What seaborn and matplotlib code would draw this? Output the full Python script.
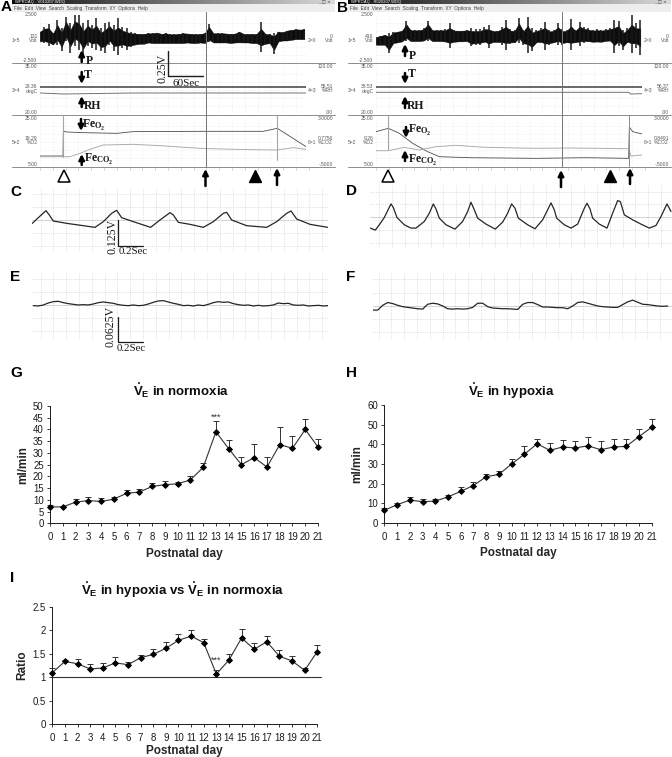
import numpy as np
import seaborn as sns
import matplotlib
matplotlib.use("Agg")
import matplotlib.pyplot as plt

# ---- graphs G, H, I
days = list(range(22))
norm_val = [7, 7, 9, 9.7, 9.3, 10.3, 12.8, 13.3, 15.7, 16.5, 16.8, 18.5, 23.8, 39, 31.8, 25, 28, 24, 33.5, 32, 40, 32.5]
norm_top = [7.8, 7.5, 10.3, 11, 10.7, 11, 14.3, 14.5, 17.3, 18, 17.8, 20.3, 25.5, 43.7, 35.5, 28.3, 33.7, 28.2, 41.2, 37, 44.5, 36]
hyp_val = [6.3, 9.2, 11.5, 10.8, 11, 13.2, 16, 19, 23.5, 24.7, 30, 35, 40.3, 37, 38.7, 38.2, 39.3, 37.3, 38.7, 39, 44, 48.8]
hyp_top = [7.5, 10, 13.2, 12, 12.3, 14.3, 18, 21, 24.8, 26.2, 32.5, 39.2, 42.8, 40.7, 42.5, 41.5, 43.7, 41.5, 42.7, 42.7, 47.7, 53]
ratio_val = [1.1, 1.34, 1.29, 1.18, 1.2, 1.31, 1.27, 1.42, 1.49, 1.62, 1.79, 1.88, 1.74, 1.07, 1.37, 1.84, 1.6, 1.76, 1.45, 1.35, 1.15, 1.55]
ratio_top = [1.2, 1.37, 1.39, 1.28, 1.3, 1.43, 1.32, 1.48, 1.6, 1.75, 1.92, 2.02, 1.81, 1.15, 1.5, 2.03, 1.73, 1.88, 1.58, 1.45, 1.2, 1.68]

# ---- screen traces (converted to units below)
A_up = [95, 80, 72, 100, 60, 85, 50, 70, 40, 45, 70, 60, 75, 55, 85, 70, 65, 75, 55, 80, 85, 95, 100, 102, 102, 100, 100, 98, 102, 100, 103, 103, 102, 100, 101, 102, 103, 102, 100, 72, 100, 100, 100, 101, 102, 101, 95, 102, 102, 102, 102, 65, 102, 103, 98, 95, 97, 92, 90, 88, 89, 88]
A_low = [125, 130, 140, 135, 135, 155, 125, 160, 140, 150, 170, 140, 145, 150, 155, 160, 135, 155, 165, 145, 150, 142, 135, 132, 132, 128, 130, 130, 130, 130, 130, 130, 130, 130, 128, 130, 130, 128, 130, 128, 128, 128, 128, 128, 130, 128, 128, 128, 128, 130, 130, 158, 132, 130, 162, 125, 122, 122, 120, 118, 118, 118]
B_up = [112, 108, 105, 100, 97, 95, 92, 62, 90, 90, 90, 85, 62, 90, 90, 90, 88, 68, 90, 92, 92, 90, 85, 88, 88, 82, 75, 92, 92, 80, 60, 88, 90, 55, 90, 50, 85, 90, 85, 65, 90, 90, 70, 88, 90, 58, 90, 65, 80, 85, 90, 88, 90, 88, 85, 60, 62, 90, 85, 45, 70, 60]
B_low = [135, 135, 135, 160, 130, 128, 125, 125, 125, 125, 125, 125, 125, 125, 125, 125, 128, 145, 128, 125, 125, 125, 140, 135, 135, 130, 145, 128, 128, 135, 150, 132, 130, 130, 135, 160, 155, 130, 130, 150, 135, 130, 135, 135, 130, 150, 130, 140, 130, 128, 128, 128, 128, 125, 125, 160, 140, 150, 130, 160, 145, 165]

A_o2_x = [120, 189, 190, 200, 250, 350, 400, 600, 790, 832, 918]
A_o2_y = [468, 468, 393, 396, 398, 400, 395, 394, 394, 385, 440]
A_co2_x = [120, 210, 240, 270, 310, 400, 480, 600, 700, 830, 880, 918]
A_co2_y = [470, 470, 460, 448, 435, 433, 437, 445, 448, 450, 443, 448]
B_o2_x = [120, 157, 190, 230, 275, 310, 400, 600, 750, 878, 880, 890, 918]
B_o2_y = [395, 385, 400, 430, 455, 470, 473, 475, 473, 475, 381, 395, 402]
B_co2_x = [120, 157, 205, 250, 300, 360, 450, 600, 700, 878, 885, 918]
B_co2_y = [452, 452, 442, 450, 440, 436, 442, 445, 444, 446, 468, 465]
A_rh_x = [120, 190, 400, 918]
A_rh_y = [279, 282, 279, 279]
B_rh_x = [120, 878, 884, 918]
B_rh_y = [277, 277, 282, 281]

C_x = [97, 115, 138, 148, 160, 200, 250, 285, 310, 335, 350, 365, 400, 452, 480, 510, 520, 535, 570, 610, 640, 670, 680, 695, 740, 800, 830, 860, 873, 890, 930, 983]
C_y = [115, 98, 77, 90, 108, 115, 122, 127, 110, 85, 76, 98, 110, 127, 105, 83, 90, 112, 118, 127, 110, 85, 82, 105, 122, 127, 110, 85, 78, 102, 118, 127]
D_x = [103, 118, 130, 145, 165, 172, 183, 205, 225, 240, 265, 280, 292, 300, 310, 330, 357, 380, 395, 405, 415, 425, 450, 478, 500, 515, 527, 537, 547, 575, 597, 620, 635, 645, 655, 662, 685, 705, 725, 745, 753, 762, 770, 790, 813, 830, 845, 853, 865, 890, 915, 940, 960, 975, 993, 1005]
D_y = [130, 136, 120, 98, 57, 68, 98, 120, 130, 130, 110, 85, 57, 72, 100, 120, 133, 110, 80, 52, 75, 100, 118, 133, 112, 85, 57, 70, 100, 120, 132, 105, 75, 54, 75, 100, 120, 130, 118, 70, 55, 72, 100, 118, 130, 85, 47, 50, 90, 105, 118, 130, 122, 95, 57, 80]
E_y = [362, 363, 360, 354, 350, 349, 353, 356, 358, 360, 359, 360, 357, 353, 351, 353, 355, 359, 361, 362, 360, 362, 361, 357, 352, 348, 347, 351, 355, 358, 362, 361, 363, 360, 362, 358, 353, 350, 352, 351, 356, 359, 361, 360, 363, 361, 363, 362, 360, 354, 356, 355, 360, 361, 360, 363, 362, 361, 363, 362]
F_y = [372, 372, 358, 350, 353, 358, 362, 364, 366, 368, 369, 355, 352, 354, 360, 368, 369, 368, 369, 368, 364, 352, 352, 362, 366, 367, 368, 368, 369, 370, 355, 350, 350, 356, 363, 363, 364, 365, 365, 368, 360, 350, 348, 352, 356, 360, 362, 363, 364, 364, 356, 348, 343, 349, 355, 356, 358, 360, 361, 360]

left_A = ["2.500", "-2.500", "35.00", "20.00", "25.00", "5.00"]
right_A = ["120.00", ".00", "3.0000", "-.5000"]
mid_A = ["131", "28.36", "19.29"]
mid_rA = ["0", "55.51", "0.7756"]
mid_B = ["416", "38.53", "9.26"]
mid_rB = ["0", "56.37", "0.8491"]

W, H = 672, 757
sns.set_theme(style="ticks")
plt.rcParams["font.family"] = ["Liberation Sans", "DejaVu Sans"]
plt.rcParams["mathtext.fontset"] = "custom"
plt.rcParams["mathtext.rm"] = "Liberation Serif:bold"
plt.rcParams["mathtext.bf"] = "Liberation Sans:bold"
plt.rcParams["mathtext.it"] = "Liberation Sans:italic"

fig = plt.figure(figsize=(W / 100, H / 100), dpi=100, facecolor="white")


def px_ax(x0, y0, x1, y1):
    return fig.add_axes([x0 / W, 1 - y1 / H, (x1 - x0) / W, (y1 - y0) / H])


# overlay in pixels for labels, arrows and scale bars
ov = fig.add_axes([0, 0, 1, 1], zorder=10)
ov.patch.set_alpha(0)
ov.axis("off")


def sec(x):
    return (np.array(x, dtype=float) - 120) * 60 / 104


def volt(y):
    return (117.5 - np.array(y, dtype=float)) / 29


def degc(y):
    return 35 - (np.array(y, dtype=float) - 200) * 15 / 140


def feo(y):
    return 25 - (np.array(y, dtype=float) - 355) * 20 / 142


def small(x, y, s, ha="right"):
    ov.text(x, y, s, fontsize=3.6, color="0.35", ha=ha, va="center")


def arrow(x, y0, y1):
    ov.annotate("", xy=(x, y1), xytext=(x, y0),
                arrowprops=dict(arrowstyle="-|>", color="black", lw=1.8, mutation_scale=8, shrinkA=0, shrinkB=0))


def serif(x, y, s, size=7.5, **kw):
    ov.text(x, y, s, fontsize=size, family="Liberation Serif", color="0.1", ha="center", va="center", **kw)


def screen(off, win_l, title, up, low, o2x, o2y, co2x, co2y, rhx, rhy, mids, mids_r):
    tx0 = off + 40
    tx1 = off + 306
    # title bar + menu
    ov.imshow(np.linspace(0.05, 0.85, 256).reshape(1, -1), cmap="gray", vmin=0, vmax=1, aspect="auto",
              extent=[win_l, off + 335, 4, 0], zorder=1)
    ov.fill_between([win_l, off + 335], 4, 12, color="0.93", lw=0, zorder=1)
    ov.text(win_l + 3, 2, title, fontsize=3, color="white", va="center", zorder=2)
    ov.text(win_l + 1.5, 8.5, "File  Edit  View  Search  Scaling  Transform  XY  Options  Help", fontsize=3.4,
            color="0.25", va="center")
    ov.text(off + 318, 2.5, "_ □ ×", fontsize=3.2, color="0.2", va="center", family=["DejaVu Sans"])
    # channel separators
    for yy in [63.3, 115.3, 167.3]:
        ov.plot([win_l, off + 335], [yy, yy], color="0.55", lw=0.7)

    grid_t = sec(120 + 38.4 * np.arange(22))
    ax1 = px_ax(tx0, 15, tx1, 63)
    ax2 = px_ax(tx0, 66.7, tx1, 113.3)
    ax3 = px_ax(tx0, 118.3, tx1, 165.7)
    for ax, lims in [(ax1, (-2.5, 2.5)), (ax2, (20, 35)), (ax3, (5, 25))]:
        ax.set_xticks(grid_t[grid_t < sec(918)])
        ax.set_yticks(np.linspace(lims[0], lims[1], 7)[1:-1])
        ax.set_xlim(0, sec(918))
        ax.set_ylim(*lims)
        ax.grid(True, color="0.88", lw=0.4, ls=":")
        ax.tick_params(length=0, labelbottom=False, labelleft=False)
        for s in ax.spines.values():
            s.set_visible(False)

    # dense trace: a solid jagged core with the single spikes standing out of it
    px = sec(120 + 13 * np.arange(len(up)))
    up_y = np.array(up, dtype=float)
    low_y = np.array(low, dtype=float)
    mid_y = (up_y + low_y) / 2
    half = (low_y - up_y) / 2
    core = np.minimum(half, 16 + 0.3 * (half - 16))
    ax1.fill_between(px, volt(mid_y - core), volt(mid_y + core), color="0.05", lw=0.3)
    ax1.vlines(px, volt(up_y), volt(low_y), color="0.1", lw=1.1)
    sns.lineplot(x=sec(rhx), y=degc(rhy), color="0.45", lw=0.7, ax=ax2, errorbar=None)
    ax2.axhline(degc(260), color="0.25", lw=1.1)
    sns.lineplot(x=sec(o2x), y=feo(o2y), color="0.3", lw=0.6, ax=ax3, errorbar=None, sort=False)
    sns.lineplot(x=sec(co2x), y=feo(co2y), color="0.68", lw=0.7, ax=ax3, errorbar=None, sort=False)
    for ax in (ax1, ax2, ax3):
        ax.set_xlabel("")
        ax.set_ylabel("")

    # scale texts down both sides
    for yy, s in zip([15, 61, 66, 113, 118, 165], left_A):
        small(off + 37.5, yy, s)
    for yy, s in zip([66, 113, 118, 165], right_A):
        small(off + 333, yy, s)
    channels = [(38, "Volt", "Volt", "1=5", "2=0"), (89, "degC", "%RH", "3=4", "4=3"), (141, "%O2", "%CO2", "5=2", "6=1")]
    for (yy, u1, u2, n1, n2), m1, m2 in zip(channels, mids, mids_r):
        small(off + 37.5, yy - 2, m1)
        small(off + 37.5, yy + 2, u1)
        small(off + 20, yy + 2, n1)
        small(off + 333, yy - 2, m2)
        small(off + 333, yy + 2, u2)
        small(off + 316, yy + 2, n2)
    # tick row under the screen
    ov.vlines(off + 40 + 12.8 * np.arange(22), 168, 170, color="0.6", lw=0.4)


screen(0, 12, "WPROAQ - V010207.WDQ", A_up, A_low, A_o2_x, A_o2_y, A_co2_x, A_co2_y, A_rh_x, A_rh_y, mid_A, mid_rA)
screen(336, 348, "WPROAQ - R020207.WDQ", B_up, B_low, B_o2_x, B_o2_y, B_co2_x, B_co2_y, B_rh_x, B_rh_y, mid_B, mid_rB)

# vertical cursors on the screens
ov.plot([205.5, 205.5], [12, 167], color="0.45", lw=0.7)
ov.plot([277, 277], [115, 160], color="0.65", lw=0.8)
ov.plot([63, 63], [115, 157], color="0.65", lw=0.8)
ov.plot([561.7, 561.7], [12, 167], color="0.45", lw=0.7)
ov.plot([629, 629], [115, 167], color="0.55", lw=0.7)
ov.plot([388.3, 388.3], [115, 150], color="0.65", lw=0.8)

# arrows and labels on the channels
for xx, y0, y1 in [(81.7, 62, 50), (81.7, 72, 84), (81.7, 107, 96), (81, 119, 131), (81.7, 165, 154),
                   (405, 56, 44), (405, 73, 84), (405, 108, 96), (406, 127, 138), (405, 161, 150)]:
    arrow(xx, y0, y1)
serif(89, 60.7, "P", size=8.5, fontweight="bold")
serif(88, 74.7, "T", size=8.5, fontweight="bold")
serif(92.7, 106, "RH", size=8.5, fontweight="bold")
serif(94, 125, r"$\mathrm{Fe_{O_2}}$", size=8.5)
serif(99, 159, r"$\mathrm{Fe_{CO_2}}$", size=8.5)
serif(412, 56, "P", size=8.5, fontweight="bold")
serif(412, 74, "T", size=8.5, fontweight="bold")
serif(416, 105.7, "RH", size=8.5, fontweight="bold")
serif(420, 130.7, r"$\mathrm{Fe_{O_2}}$", size=8.5)
serif(423, 160, r"$\mathrm{Fe_{CO_2}}$", size=8.5)

# time scale on A
ov.plot([168, 168, 203], [51, 76, 76], color="0.1", lw=1)
serif(162, 68, "0.25V", size=8.5, rotation=90)
serif(186, 83, "60Sec", size=8)

# event marks below the screens
for xx in [64, 387.7]:
    ov.plot([xx], [175.5], marker="^", ms=8, mfc="white", mec="black", mew=1.1)
for xx in [255, 610]:
    ov.plot([xx], [175.5], marker="^", ms=8, color="black")
for xx, y0, y1 in [(205.5, 186, 169), (277, 185, 168), (561, 187, 170), (630, 184, 168)]:
    arrow(xx, y0, y1)


def wave(box, x, y, x_lim, y_lim, grid_x0, grid_y, lw=0.9):
    ax = px_ax(*box)
    t = (np.array(x, dtype=float) - grid_x0) / 384
    v = (grid_y - np.array(y, dtype=float)) * 0.0625 / 38.5
    sns.lineplot(x=t, y=v, color="0.15", lw=lw, ax=ax, errorbar=None, sort=False)
    ax.set_xticks(0.1 * np.arange(0, 24))
    ax.set_yticks([-0.125, -0.0625, 0, 0.0625, 0.125])
    ax.set_xlim((x_lim[0] - grid_x0) / 384, (x_lim[1] - grid_x0) / 384)
    ax.set_ylim((grid_y - y_lim[1]) * 0.0625 / 38.5, (grid_y - y_lim[0]) * 0.0625 / 38.5)
    ax.grid(True, color="0.78", lw=0.5, ls=":")
    ax.axhline(0, color="0.85", lw=0.7, zorder=0)
    ax.tick_params(length=0, labelbottom=False, labelleft=False)
    ax.set_xlabel("")
    ax.set_ylabel("")
    ax.patch.set_alpha(0)
    for s in ax.spines.values():
        s.set_visible(False)


wave((32.3, 188.3, 327.7, 251.7), C_x, C_y, (97, 983), (10, 200), 122, 105)
wave((370.3, 185, 672, 248), D_x, D_y, (103, 1008), (0, 190), 130, 97)
wave((32.3, 273.3, 327.7, 340), [100 + 15 * i for i in range(len(E_y))], E_y, (97, 983), (265, 465), 122, 360)
wave((372.7, 273.3, 672, 339.7), [110 + 15 * i for i in range(len(F_y))], F_y, (110, 1008), (265, 458), 128, 360)

ov.plot([117.7, 117.7, 143], [220, 245.7, 245.7], color="0.1", lw=0.9)
serif(112, 236.7, "0.125V", size=8.5, rotation=90)
serif(133, 252, "0.2Sec", size=7.8)
ov.plot([117.7, 117.7, 143], [317, 341.7, 341.7], color="0.1", lw=0.9)
serif(111, 326.7, "0.0625V", size=8.5, rotation=90)
serif(131, 348.7, "0.2Sec", size=7.8)


def graph(box, val, top, y_max, y_step, ylabel, title, title_xy, stars=None, xpad=4):
    ax = px_ax(*box)
    sns.lineplot(x=days, y=val, color="0.2", lw=0.8, marker="D", ms=2.9, mfc="black", mec="black", ax=ax, errorbar=None,
                 clip_on=False, zorder=3)
    lower = np.zeros(len(val))
    upper = np.array(top) - np.array(val)
    ax.errorbar(days, val, yerr=[lower, upper], fmt="none", ecolor="0.2", elinewidth=0.7, capsize=2.4, capthick=0.7,
                clip_on=False)
    ax.set_xlim(0, 21)
    ax.set_ylim(0, y_max)
    ax.set_xticks(days)
    ax.set_yticks(np.arange(0, y_max + y_step / 2, y_step))
    ax.set_yticklabels([f"{v:g}" for v in np.arange(0, y_max + y_step / 2, y_step)])
    ax.tick_params(length=2.5, width=0.6, labelsize=6.9, pad=2, colors="0.1")
    ax.tick_params(axis="x", pad=4)
    ax.set_xlabel("Postnatal day", fontsize=8.5, fontweight="bold", labelpad=xpad)
    ax.set_ylabel(ylabel, fontsize=8.5, fontweight="bold", labelpad=3)
    ax.patch.set_alpha(0)
    sns.despine(ax=ax)
    for s in ["left", "bottom"]:
        ax.spines[s].set_linewidth(0.7)
        ax.spines[s].set_color("0.1")
    if stars is not None:
        ax.text(13, stars, "***", fontsize=6.5, ha="center", va="center", color="0.2")
    ov.text(title_xy[0], title_xy[1], title, fontsize=9.5, fontweight="bold", ha="center", va="center", color="0.05")
    return ax


VE = r"$\dot{\mathbf{V}}_{\mathbf{E}}$"
graph((50, 406, 318, 523.3), norm_val, norm_top, 50, 5, "ml/min", VE + " in normoxia", (181, 391), stars=45.3)
graph((384.3, 405.3, 651.7, 522.7), hyp_val, hyp_top, 60, 10, "ml/min", VE + " in hypoxia", (511, 391))
ax_i = graph((52.3, 607, 317.3, 724.3), ratio_val, ratio_top, 2.5, 0.5, "Ratio", VE + " in hypoxia vs " + VE + " in normoxia",
             (183, 590), stars=1.36, xpad=1)
ax_i.plot([0, 21.3], [1, 1], color="0.2", lw=0.8, clip_on=False, zorder=1)

# panel letters
for s, xx, yy in [("A", 1, 7), ("B", 337, 8), ("C", 10, 192), ("D", 346, 191), ("E", 10, 277), ("F", 346, 277),
                  ("G", 10, 373), ("H", 346, 373), ("I", 10, 578)]:
    ov.text(xx, yy, s, fontsize=11, fontweight="bold", va="center", color="black")

ov.set_xlim(0, W)
ov.set_ylim(H, 0)
fig.savefig("out.png", dpi=100)
